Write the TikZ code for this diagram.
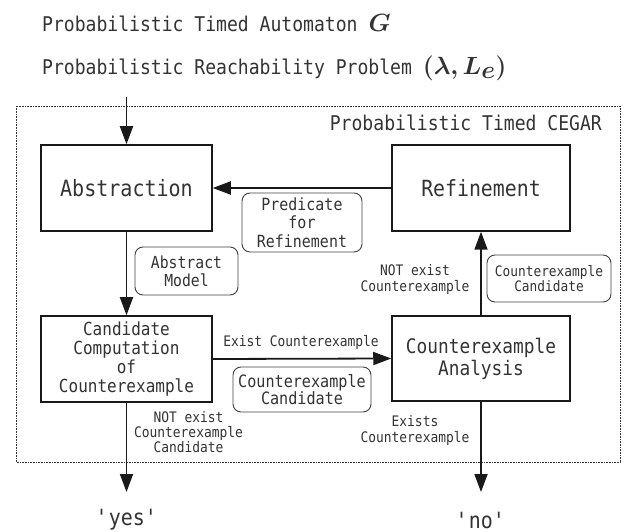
\documentclass[tikz,border=0pt]{standalone}
\usepackage{fontspec}
\usepackage{amsmath,bm}
\usetikzlibrary{arrows.meta}
\newfontfamily\gf[FakeStretch=0.89]{DejaVu Sans Mono}
\tikzset{
  txt/.style={text=black!80, inner sep=0pt},
  titlefont/.style={txt, font=\gf\fontsize{20.3}{22}\selectfont},
  bigbox/.style={draw=black!90, line width=1.5pt, rectangle, inner sep=0pt, align=center, text=black!80},
  labbox/.style={draw=black!75, line width=0.9pt, rounded corners=8pt, rectangle, inner sep=0pt, align=center, text=black!80},
  small/.style={txt, align=center, font=\gf\fontsize{14.5}{16}\selectfont},
  conn/.style={line width=1.8pt, draw=black!90, -{Triangle[length=18pt,width=13pt]}},
  region/.style={draw=black!80, line width=0.6pt, densely dotted}
}
\begin{document}
\begin{tikzpicture}[x=1pt,y=-1pt]
\useasboundingbox (0,0) rectangle (625,532);

% titles
\node[titlefont, anchor=base west] (t1) at (42,32) {Probabilistic Timed Automaton {\fontsize{29}{29}\selectfont$\bm{G}$}};
\node[titlefont, anchor=base west] (t2) at (42,75) {Probabilistic Reachability Problem {\fontsize{33}{33}\selectfont$\bm{(\lambda, L_e)}$}};

% CEGAR region
\draw[region] (16,106) rectangle (620,462);
\node[titlefont, anchor=base east] (cegar) at (602,131) {Probabilistic Timed CEGAR};

% main boxes
\node[bigbox, minimum width=171pt, minimum height=86pt, font=\gf\fontsize{22.5}{24}\selectfont] (abs) at (126.5,188) {Abstraction};
\node[bigbox, minimum width=178pt, minimum height=86pt, font=\gf\fontsize{22.3}{24}\selectfont] (ref) at (481,188) {Refinement};
\node[bigbox, minimum width=171pt, minimum height=86pt, font=\gf\fontsize{18}{19}\selectfont] (cand) at (126.5,359) {Candidate\\Computation\\of\\Counterexample};
\node[bigbox, minimum width=178pt, minimum height=85pt, font=\gf\fontsize{20}{22}\selectfont] (ana) at (481,358.5) {Counterexample\\Analysis};

% label boxes
\node[labbox, minimum width=120pt, minimum height=59pt, font=\gf\fontsize{16.8}{18.5}\selectfont] (pred) at (302,222.5) {Predicate\\for\\Refinement};
\node[labbox, minimum width=103pt, minimum height=48pt, font=\gf\fontsize{16.6}{18}\selectfont] (absmod) at (186.5,271) {Abstract\\Model};
\node[labbox, minimum width=138pt, minimum height=45pt, font=\gf\fontsize{17}{17}\selectfont] (midcc) at (302,389.5) {Counterexample\\Candidate};
\node[labbox, minimum width=124pt, minimum height=47pt, font=\gf\fontsize{14.4}{15}\selectfont] (rcc) at (549,278.5) {Counterexample\\Candidate};

% plain labels
\node[small] (notex1) at (415,280) {NOT exist\\Counterexample};
\node[small] (exist) at (301,342) {Exist Counterexample};
\node[small, font=\gf\fontsize{14.5}{15}\selectfont] (notex2) at (188.5,432) {NOT exist\\Counterexample\\Candidate};
\node[small] (exists) at (415,430) {Exists\\Counterexample};

% outputs
\node[txt, font=\gf\fontsize{22.4}{24}\selectfont] (yes) at (127,520) {\textquotesingle yes\textquotesingle};
\node[txt, font=\gf\fontsize{22.4}{24}\selectfont] (no) at (481,520) {\textquotesingle no\textquotesingle};

\coordinate (in) at (126.5,97);
\coordinate (yestip) at (126.5,492);
\coordinate (notip) at (481,492);

% connectors
\draw[conn] (in) -- (abs.north);
\draw[conn] (ref.west) -- (abs.east);
\draw[conn] (abs.south) -- (cand.north);
\draw[conn] (cand.east) -- (ana.west);
\draw[conn] (ana.north) -- (ref.south);
\draw[conn] (cand.south) -- (yestip);
\draw[conn] (ana.south) -- (notip);
\end{tikzpicture}
\end{document}
